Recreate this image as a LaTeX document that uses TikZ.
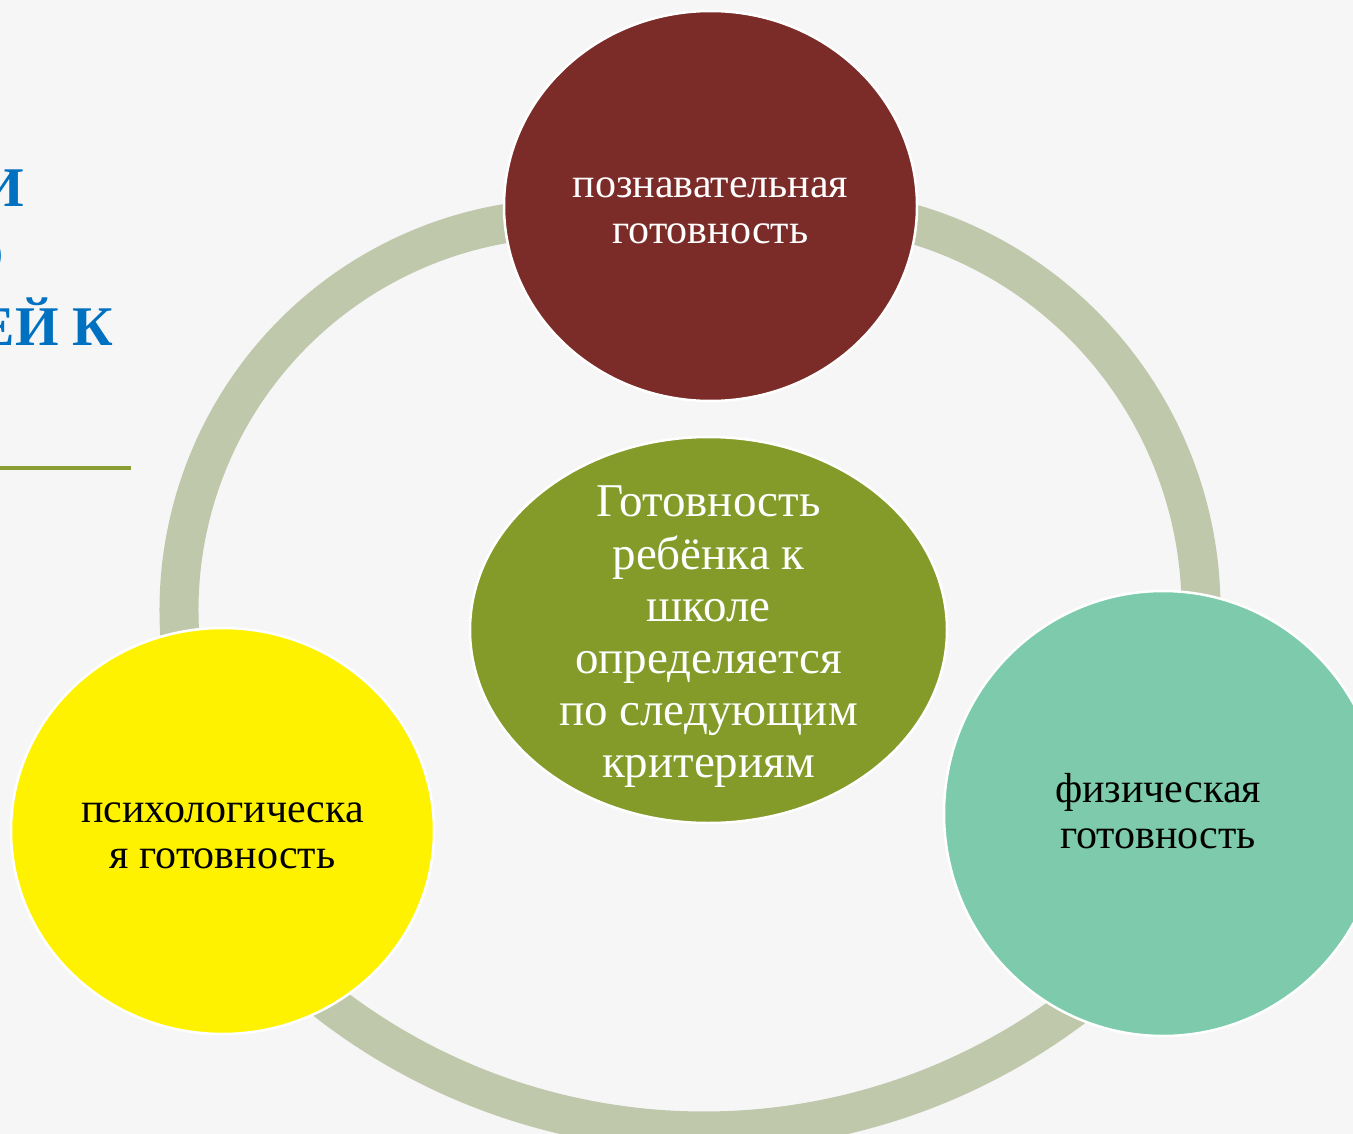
\documentclass[tikz,border=0pt]{standalone}
\usepackage{fontspec}
\setmainfont{Liberation Serif}
\usetikzlibrary{shapes.geometric}
\definecolor{paper}{RGB}{246,246,246}
\definecolor{ringgrey}{RGB}{192,200,172}
\definecolor{maroon}{RGB}{123,44,40}
\definecolor{olive}{RGB}{132,155,42}
\definecolor{mint}{RGB}{125,203,172}
\definecolor{titleblue}{RGB}{0,112,192}
\definecolor{ruleolive}{RGB}{138,158,52}

\begin{document}
\begin{tikzpicture}[
x=1pt,y=-1pt,
disc/.style={ellipse,draw=white,line width=2.5pt,inner sep=0pt,outer sep=0pt},
band/.style={ringgrey,line width=39pt},
lbl/.style={align=center,font=\fontsize{42}{46}\selectfont},
corelbl/.style={align=center,text=white,font=\fontsize{47}{52.2}\selectfont},
headtxt/.style={anchor=base east,text=titleblue,font=\fontsize{56}{60}\selectfont\bfseries}
]

\useasboundingbox (0,0) rectangle (1353,1134);
\clip (0,0) rectangle (1353,1134);
\fill[paper] (0,0) rectangle (1353,1134);

\node[headtxt] (headA) at (28,207) {И};
\node[headtxt] (headB) at (8,275) {О};
\node[headtxt] (headC) at (117,345) {ЕЙ К};
\draw[ruleolive,line width=3.3pt] (0,468) -- (131,468);

\coordinate (leftc) at (571,610);
\coordinate (rightc) at (799,609.5);
\coordinate (lowc) at (704,517);
\draw[band] ([shift={(170:392)}]leftc) arc[start angle=170,end angle=265,radius=392];
\draw[band] ([shift={(-80:402)}]rightc) arc[start angle=-80,end angle=5,radius=402];
\draw[band] ([shift={(132:614)}]lowc) arc[start angle=132,end angle=50,radius=614];

\node[disc,fill=maroon,minimum width=413pt,minimum height=390pt] (cog) at (710.5,206) {};
\node[disc,fill=olive,minimum width=477pt,minimum height=386pt] (core) at (708.5,630) {};
\node[disc,fill=yellow,minimum width=423pt,minimum height=406pt] (psy) at (222.5,831) {};
\node[disc,fill=mint,minimum width=438pt,minimum height=445pt] (phys) at (1163,813.5) {};

\node[lbl,text=white] (cogtext) at ([yshift=-4.5pt]cog.center) {познавательная\\готовность};
\node[corelbl] (coretext) at ([yshift=-7pt]core.center) {Готовность\\ребёнка к\\школе\\определяется\\по следующим\\критериям};
\node[lbl] (psytext) at ([yshift=-4.5pt]psy.center) {психологическа\\я готовность};
\node[lbl] (phystext) at ([xshift=-5pt,yshift=2.5pt]phys.center) {физическая\\готовность};

\end{tikzpicture}
\end{document}
